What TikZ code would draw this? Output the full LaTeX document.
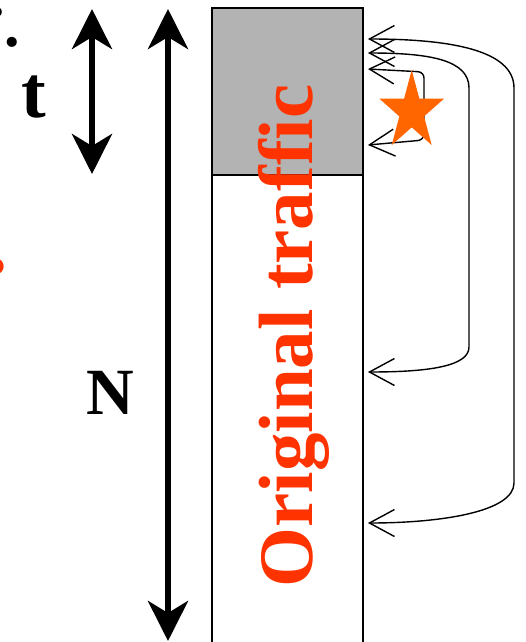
\documentclass[tikz,border=0pt]{standalone}
\usepackage{fontspec}
\setmainfont{Liberation Serif}
\usetikzlibrary{arrows.meta,shapes.geometric}
\definecolor{blockgray}{HTML}{B3B3B3}
\definecolor{txtred}{HTML}{FF3300}
\definecolor{starorange}{HTML}{FF6600}
\begin{document}
\begin{tikzpicture}[x=1pt,y=-1pt,
  bigarrow/.style={line width=6pt,{Stealth[length=40pt,width=40pt,inset=12pt]}-{Stealth[length=40pt,width=40pt,inset=12pt]}},
  backarrow/.style={line width=1.4pt,{Straight Barb[length=25pt,width=27pt,line width=1.4pt]}-{Straight Barb[length=25pt,width=27pt,line width=1.4pt]}},
  blockbox/.style={draw,line width=1.5pt,minimum width=151pt,anchor=north west,inner sep=0pt,outer sep=0pt},
  bigletter/.style={font=\fontsize{62}{62}\selectfont\bfseries,inner sep=0pt,anchor=base}]
\useasboundingbox (0,0) rectangle (525,642);
% blocks
\node[blockbox,fill=blockgray,minimum height=167pt] (blockTop) at (212,8) {};
\node[blockbox,fill=white,minimum height=480pt] (blockBody) at (212,175) {};
% text
\node[rotate=90,anchor=base,inner sep=0pt,text=txtred,font=\fontsize{77}{77}\selectfont\bfseries] (orig) at (312,336) {Original traffic};
\node[bigletter,font=\fontsize{74}{74}\selectfont\bfseries] (tlabel) at (34,117) {t};
\node[bigletter,font=\fontsize{66}{66}\selectfont\bfseries] (Nlabel) at (110,414) {N};
\node[bigletter] (dotA) at (12,47) {.};
\node[bigletter] (dotB) at (-3,17) {.};
\node[bigletter,text=txtred,font=\fontsize{100}{100}\selectfont\bfseries] (redfrag) at (-4,273) {.};
% double arrows
\coordinate (tTop) at (92,9);
\coordinate (tBot) at (92,174);
\coordinate (NTop) at (168,9);
\coordinate (NBot) at (168,641);
\draw[bigarrow] (tTop) -- (tBot);
\draw[bigarrow] (NTop) -- (NBot);
% back arrows
\coordinate (a1) at (368,39);
\coordinate (b1) at (368,523);
\coordinate (a2) at (368,53);
\coordinate (b2) at (368,372);
\coordinate (a3) at (368,69);
\coordinate (b3) at (368,145);
\draw[backarrow] (a1) .. controls (450,39) and (514,50) .. (514,88) -- (514,483) .. controls (514,512) and (440,523) .. (b1);
\draw[backarrow] (a2) .. controls (430,53) and (469,60) .. (469,88) -- (469,347) .. controls (469,366) and (430,372) .. (b2);
\draw[backarrow,rounded corners=6pt] (a3) -- (424,72) -- (424,140) -- (b3);
% star
\node[star,star points=5,star point ratio=2.618,minimum size=68pt,inner sep=0pt,yscale=1.22,fill=starorange] (starA) at (411.7,111.5) {};
\end{tikzpicture}
\end{document}
